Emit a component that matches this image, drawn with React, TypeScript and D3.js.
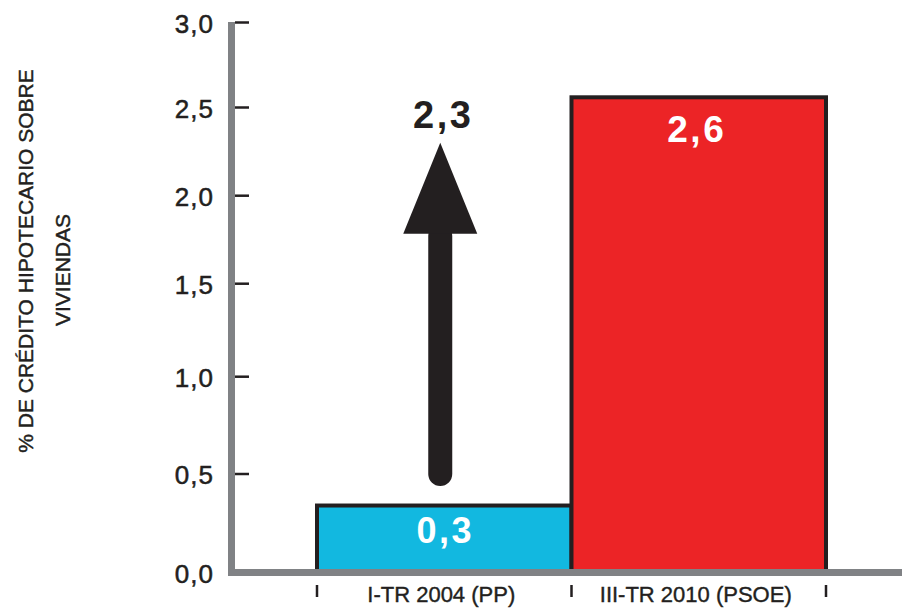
import React from "react";
import * as d3 from "d3";

const categories = ["I-TR 2004 (PP)", "III-TR 2010 (PSOE)"];
const values = [0.34, 2.56];
const barColors = ["#12b8e0", "#ec2426"];
const yTicks = [0, 0.5, 1, 1.5, 2, 2.5, 3];
const yTickLabels = ["0,0", "0,5", "1,0", "1,5", "2,0", "2,5", "3,0"];
const arrowFrom = 0.5;
const arrowTo = 2.3;
const arrowLabel = "2,3";
const yTitle = ["% DE CRÉDITO HIPOTECARIO SOBRE", "VIVIENDAS"];

const W = 902;
const H = 613;
const fmt = (v: number) => d3.format(".1f")(v).replace(".", ",");

export default function App() {
  // hand-drawn axis calibration (tick positions of the original graphic)
  const y = d3
    .scaleLinear()
    .domain(yTicks)
    .range([572.5, 474, 376.7, 283.7, 195.7, 107.5, 22.5]);
  const x = d3.scaleBand<string>().domain(categories).range([317, 826]).padding(0);
  const ink = "#231f20";
  const gray = "#808285";
  const font = "'Liberation Sans', Arial, sans-serif";

  const ax = x(categories[0])! + x.bandwidth() / 2 - 4;
  const headLen = 91;
  const headHalf = 37;
  const tipY = y(arrowTo);
  const baseY = tipY + headLen;

  const edges = [x.range()[0], ...categories.map((c) => x(c)! + x.bandwidth())];

  return (
    <svg
      width={W}
      height={H}
      style={{ position: "absolute", left: 0, top: 0, background: "#fff" }}
      fontFamily={font}
    >
      {/* bars */}
      {categories.map((c, i) => (
        <rect
          key={c}
          x={x(c)!}
          y={y(values[i])}
          width={x.bandwidth()}
          height={y(0) - y(values[i])}
          fill={barColors[i]}
          stroke={ink}
          strokeWidth={4}
        />
      ))}
      {/* bar value labels */}
      <text
        x={x(categories[0])! + x.bandwidth() / 2 + 1}
        y={543}
        textAnchor="middle"
        fill="#fff"
        fontWeight="bold"
        fontSize={36}
        letterSpacing={2.5}
      >
        {fmt(values[0])}
      </text>
      <text
        x={x(categories[1])! + x.bandwidth() / 2 - 2}
        y={y(values[1]) + 45}
        textAnchor="middle"
        fill="#fff"
        fontWeight="bold"
        fontSize={37}
        letterSpacing={2.5}
      >
        {fmt(values[1])}
      </text>

      {/* arrow */}
      <line
        x1={ax}
        x2={ax}
        y1={y(arrowFrom)}
        y2={baseY + 2}
        stroke={ink}
        strokeWidth={24}
        strokeLinecap="round"
      />
      <path
        d={`M${ax},${tipY} L${ax + headHalf},${baseY} L${ax - headHalf},${baseY} Z`}
        fill={ink}
      />
      <text
        x={ax + 3}
        y={tipY - 15}
        textAnchor="middle"
        fill={ink}
        fontWeight="bold"
        fontSize={38}
        letterSpacing={2.5}
      >
        {arrowLabel}
      </text>

      {/* axes */}
      <line x1={231.5} x2={231.5} y1={22} y2={576} stroke={gray} strokeWidth={7} />
      <line x1={228} x2={W} y1={y(0)} y2={y(0)} stroke={gray} strokeWidth={7} />
      {yTicks.map((t, i) => (
        <g key={t}>
          {t > 0 && (
            <line x1={235} x2={249} y1={y(t)} y2={y(t)} stroke={ink} strokeWidth={2.5} />
          )}
          <text
            x={214}
            y={y(t) + 10}
            textAnchor="end"
            fill={ink}
            fontSize={26}
            letterSpacing={1}
            stroke={ink}
            strokeWidth={0.5}
          >
            {yTickLabels[i]}
          </text>
        </g>
      ))}
      {edges.map((e, i) => (
        <line key={i} x1={e} x2={e} y1={585} y2={597} stroke={ink} strokeWidth={2.5} />
      ))}
      {categories.map((c) => (
        <text
          key={c}
          x={x(c)! + x.bandwidth() / 2 - 3}
          y={602}
          textAnchor="middle"
          fill={ink}
          fontSize={22}
          stroke={ink}
          strokeWidth={0.4}
        >
          {c}
        </text>
      ))}

      {/* y title */}
      <text
        transform="translate(33,261) rotate(-90)"
        textAnchor="middle"
        fill={ink}
        fontSize={21}
        stroke={ink}
        strokeWidth={0.45}
      >
        {yTitle[0]}
      </text>
      <text
        transform="translate(70,270) rotate(-90)"
        textAnchor="middle"
        fill={ink}
        fontSize={21}
        stroke={ink}
        strokeWidth={0.45}
      >
        {yTitle[1]}
      </text>
    </svg>
  );
}
